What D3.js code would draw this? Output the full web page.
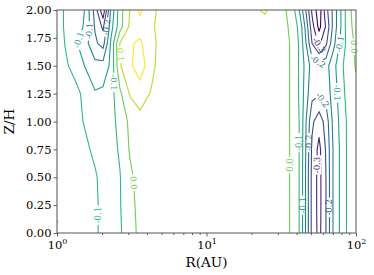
<!DOCTYPE html>
<html>
<head>
<meta charset="utf-8">
<script src="https://cdn.jsdelivr.net/npm/d3@7"></script>
<style>
  body { margin: 0; background: #fff; }
  text { font-family: "DejaVu Serif", serif; }
</style>
</head>
<body>
<div id="chart"></div>
<script>
// grid columns (log10 R in AU) and rows (Z/H)
var logR = [0, 0.054, 0.120, 0.187, 0.254, 0.308, 0.361, 0.421, 0.488, 0.555, 0.635, 0.722,
            0.957, 1.224, 1.391,
            1.492, 1.572, 1.625, 1.666, 1.706, 1.753, 1.799, 1.846, 1.893, 1.946, 2.0];
var zH = [0, 0.1, 0.25, 0.5, 0.75, 1.0, 1.25, 1.5, 1.7, 1.85, 2.0];

// field values, one row per Z/H
var phi = [
  [-0.03, -0.032, -0.036, -0.04, -0.046, -0.056, -0.063, -0.056, -0.02, 0.012, 0.025, 0.025, 0.02, 0.025, 0.025, 0.02, -0.005, -0.055, -0.16, -0.265, -0.315, -0.25, -0.15, -0.095, -0.04, -0.03],
  [0.004, -0.032, -0.036, -0.04, -0.046, -0.056, -0.063, -0.055, -0.018, 0.013, 0.025, 0.025, 0.02, 0.025, 0.025, 0.02, -0.005, -0.055, -0.16, -0.265, -0.317, -0.25, -0.15, -0.095, -0.04, -0.03],
  [-0.03, -0.032, -0.036, -0.04, -0.046, -0.056, -0.062, -0.053, -0.015, 0.015, 0.025, 0.025, 0.02, 0.025, 0.025, 0.02, -0.005, -0.055, -0.16, -0.265, -0.318, -0.25, -0.15, -0.095, -0.04, -0.03],
  [-0.03, -0.032, -0.036, -0.04, -0.047, -0.058, -0.062, -0.052, -0.01, 0.02, 0.025, 0.025, 0.02, 0.025, 0.025, 0.02, -0.005, -0.055, -0.16, -0.265, -0.318, -0.25, -0.15, -0.095, -0.04, -0.03],
  [-0.03, -0.033, -0.038, -0.045, -0.055, -0.07, -0.065, -0.045, 0.005, 0.02, 0.025, 0.025, 0.02, 0.025, 0.025, 0.02, -0.005, -0.055, -0.155, -0.26, -0.315, -0.245, -0.15, -0.095, -0.04, -0.03],
  [-0.03, -0.035, -0.042, -0.052, -0.075, -0.075, -0.07, -0.03, 0.01, 0.035, 0.035, 0.025, 0.02, 0.025, 0.025, 0.02, -0.005, -0.055, -0.15, -0.24, -0.28, -0.23, -0.14, -0.09, -0.04, -0.025],
  [-0.03, -0.035, -0.04, -0.058, -0.095, -0.09, -0.07, -0.01, 0.055, 0.072, 0.045, 0.025, 0.02, 0.025, 0.025, 0.02, -0.005, -0.06, -0.13, -0.185, -0.195, -0.18, -0.13, -0.08, -0.03, -0.01],
  [-0.03, -0.045, -0.06, -0.102, -0.135, -0.13, -0.09, 0.045, 0.09, 0.13, 0.06, 0.02, 0.02, 0.025, 0.025, 0.02, -0.005, -0.06, -0.12, -0.17, -0.18, -0.17, -0.12, -0.07, -0.02, 0.003],
  [-0.03, -0.051, -0.09, -0.13, -0.19, -0.22, -0.09, 0.052, 0.095, 0.108, 0.065, 0.02, 0.02, 0.025, 0.025, 0.02, -0.005, -0.06, -0.15, -0.25, -0.31, -0.26, -0.17, -0.098, -0.03, 0.01],
  [-0.03, -0.055, -0.08, -0.105, -0.205, -0.26, -0.12, -0.02, 0.06, 0.08, 0.055, 0.03, 0.02, 0.025, 0.035, 0.02, -0.01, -0.07, -0.17, -0.28, -0.365, -0.295, -0.19, -0.11, -0.02, 0.02],
  [-0.03, -0.055, -0.08, -0.101, -0.22, -0.34, -0.14, -0.02, 0.051, 0.11, 0.06, 0.03, 0.02, 0.03, 0.055, 0.02, -0.02, -0.11, -0.205, -0.31, -0.38, -0.27, -0.19, -0.11, -0.02, 0.03]
];

var levels = [-0.35, -0.3, -0.25, -0.2, -0.15, -0.1, -0.05, 0, 0.05, 0.1];

// inline labels: level, log10 R, Z/H, text
var labelLevel = [-0.05, 0, -0.1, -0.2, -0.15, -0.05, 0.05,
                  0, -0.05, -0.2, -0.3, -0.1, -0.2,
                  -0.3, -0.2, -0.1, 0, -0.2, -0.1];
var labelLogR = [0.268, 0.508, 0.154, 0.314, 0.234, 0.355, 0.421,
                 1.559, 1.625, 1.672, 1.746, 1.639, 1.813,
                 1.746, 1.746, 1.873, 1.98, 1.826, 1.906];
var labelZ = [0.16, 0.45, 1.73, 1.85, 1.81, 1.35, 1.6,
              0.61, 0.81, 0.81, 0.61, 0.25, 0.23,
              1.67, 1.54, 1.70, 1.67, 1.24, 1.26];
var labelText = ["-0.1", "0.0", "-0.1", "-0.2", "-0.1", "-0.1", "0.1",
                 "0.0", "-0.1", "-0.2", "-0.3", "-0.1", "-0.2",
                 "-0.3", "-0.2", "-0.1", "0.0", "-0.2", "-0.1"];

var xTicks = [1, 10, 100];
var xMinor = [2, 3, 4, 5, 6, 7, 8, 9, 20, 30, 40, 50, 60, 70, 80, 90];
var yTicks = [0, 0.25, 0.5, 0.75, 1.0, 1.25, 1.5, 1.75, 2.0];

//----------------------------------------------------------------------------------

var svg_width = 374, svg_height = 275;
var margin = { top: 10, right: 18, bottom: 42, left: 57 };
var width = svg_width - margin.left - margin.right;
var height = svg_height - margin.top - margin.bottom;

var svg = d3.select("#chart").append("svg")
    .attr("width", svg_width)
    .attr("height", svg_height);

var chart = svg.append("g")
    .attr("transform", `translate(${margin.left}, ${margin.top})`);

var x = d3.scaleLog().domain([1, 100]).range([0, width]);
var y = d3.scaleLinear().domain([0, 2]).range([height, 0]);
var color = d3.scaleSequential(d3.interpolateViridis).domain([d3.min(levels), d3.max(levels)]);

// grid index -> data (piecewise through the column / row positions)
var n = logR.length, m = zH.length;
var colScale = d3.scaleLinear().domain(d3.range(n)).range(logR);
var rowScale = d3.scaleLinear().domain(d3.range(m)).range(zH);

function toPx(p) {
    var i = p[0] - 0.5, j = p[1] - 0.5;
    return [x(Math.pow(10, colScale(i))), y(rowScale(j))];
}

var eps = 1e-6;
function inside(p) {
    var i = p[0] - 0.5, j = p[1] - 0.5;
    return i > -eps && i < n - 1 + eps && j > -eps && j < m - 1 + eps;
}

var values = [].concat.apply([], phi);
var contours = d3.contours().size([n, m]).thresholds(levels)(values);

// turn the filled rings into open lines, dropping the grid border
var lineSets = contours.map(function(c) {
    var lines = [];
    c.coordinates.forEach(function(poly) {
        poly.forEach(function(ring) {
            var cur = null;
            for (var k = 0; k < ring.length - 1; k++) {
                var a = ring[k], b = ring[k + 1];
                if (inside(a) && inside(b)) {
                    if (!cur) { cur = [toPx(a)]; lines.push(cur); }
                    cur.push(toPx(b));
                } else {
                    cur = null;
                }
            }
        });
    });
    return { value: c.value, lines: lines };
});

// place labels on the nearest point of their level
var labels = labelText.map(function(t, k) {
    var set = lineSets.find(s => Math.abs(s.value - labelLevel[k]) < 1e-9);
    var tx = x(Math.pow(10, labelLogR[k])), ty = y(labelZ[k]);
    var best = null;
    set.lines.forEach(function(line) {
        for (var s = 0; s < line.length - 1; s++) {
            var a = line[s], b = line[s + 1];
            var dx = b[0] - a[0], dy = b[1] - a[1];
            var len2 = dx * dx + dy * dy;
            var u = len2 > 0 ? ((tx - a[0]) * dx + (ty - a[1]) * dy) / len2 : 0;
            u = Math.max(0, Math.min(1, u));
            var px = a[0] + u * dx, py = a[1] + u * dy;
            var d = (px - tx) * (px - tx) + (py - ty) * (py - ty);
            if (!best || d < best.d) {
                best = { d: d, x: px, y: py, ang: Math.atan2(dy, dx) * 180 / Math.PI };
            }
        }
    });
    var ang = best.ang;
    if (ang >= 90) ang -= 180;
    if (ang < -90) ang += 180;
    return { level: labelLevel[k], text: t, x: best.x, y: best.y, ang: ang };
});

var defs = svg.append("defs");
defs.append("clipPath").attr("id", "plot-clip")
    .append("rect").attr("width", width).attr("height", height);

var plot = chart.append("g").attr("clip-path", "url(#plot-clip)");
var labelLayer = chart.append("g");

var lineGen = d3.line();

lineSets.forEach(function(set, idx) {
    var mine = labels.filter(l => Math.abs(l.level - set.value) < 1e-9);
    var g = plot.append("g");

    mine.forEach(function(l) {
        l.node = labelLayer.append("text")
            .attr("transform", `translate(${l.x}, ${l.y}) rotate(${l.ang})`)
            .attr("text-anchor", "middle")
            .attr("dy", "0.35em")
            .attr("font-size", 8.5)
            .attr("fill", color(set.value))
            .text(l.text);
        l.w = l.node.node().getComputedTextLength();
    });

    if (mine.length) {
        var mask = defs.append("mask").attr("id", "mask" + idx)
            .attr("maskUnits", "userSpaceOnUse")
            .attr("x", -margin.left).attr("y", -margin.top)
            .attr("width", svg_width).attr("height", svg_height);
        mask.append("rect")
            .attr("x", -margin.left).attr("y", -margin.top)
            .attr("width", svg_width).attr("height", svg_height)
            .attr("fill", "white");
        mine.forEach(function(l) {
            mask.append("rect")
                .attr("x", -l.w / 2 - 1.5).attr("y", -4.5)
                .attr("width", l.w + 3).attr("height", 9)
                .attr("transform", `translate(${l.x}, ${l.y}) rotate(${l.ang})`)
                .attr("fill", "black");
        });
        g.attr("mask", "url(#mask" + idx + ")");
    }

    g.selectAll("path")
        .data(set.lines)
        .enter()
        .append("path")
        .attr("d", lineGen)
        .attr("fill", "none")
        .attr("stroke", color(set.value))
        .attr("stroke-width", 1.1)
        .attr("stroke-linejoin", "round");
});

// axes
var x_axis = chart.append("g")
    .attr("transform", `translate(0, ${height})`)
    .call(d3.axisBottom(x).tickValues(xTicks).tickSize(3.5).tickPadding(2).tickFormat(""));
x_axis.select(".domain").remove();
x_axis.selectAll(".tick text").remove();
x_axis.selectAll(".tick").each(function(d) {
    var t = d3.select(this).append("text")
        .attr("y", 16)
        .attr("text-anchor", "middle")
        .attr("fill", "#000")
        .attr("font-size", 11.5);
    t.append("tspan").text("10");
    t.append("tspan").attr("dy", -5).attr("font-size", 8).text(Math.round(Math.log10(d)));
});

var x_minor = chart.append("g")
    .attr("transform", `translate(0, ${height})`)
    .call(d3.axisBottom(x).tickValues(xMinor).tickSize(2).tickFormat(""));
x_minor.select(".domain").remove();

var y_axis = chart.append("g")
    .call(d3.axisLeft(y).tickValues(yTicks).tickSize(3.5).tickPadding(2).tickFormat(d3.format(".2f")));
y_axis.select(".domain").remove();
y_axis.selectAll(".tick text")
    .attr("font-size", 11.5)
    .attr("fill", "#000")
    .style("font-family", "DejaVu Serif");

chart.selectAll(".tick line").attr("stroke", "#333").attr("stroke-width", 0.8);

chart.append("rect")
    .attr("width", width)
    .attr("height", height)
    .attr("fill", "none")
    .attr("stroke", "#555")
    .attr("stroke-width", 1);

// axis labels
svg.append("text")
    .attr("x", margin.left + width / 2)
    .attr("y", 267)
    .attr("text-anchor", "middle")
    .attr("font-size", 13.5)
    .attr("fill", "#000")
    .text("R(AU)");

svg.append("text")
    .attr("transform", `translate(14, ${margin.top + height / 2}) rotate(-90)`)
    .attr("text-anchor", "middle")
    .attr("font-size", 13.5)
    .attr("fill", "#000")
    .text("Z/H");
</script>
</body>
</html>
